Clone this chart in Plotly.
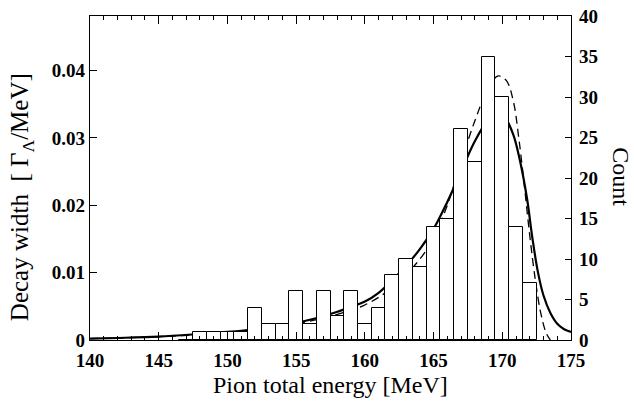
import plotly.graph_objects as go

# Histogram (counts, right axis), bins centred on integer MeV values
bin_centers = [147, 148, 149, 150, 151, 152, 153, 154, 155, 156, 157, 158, 159, 160,
               161, 162, 163, 164, 165, 166, 167, 168, 169, 170, 171, 172]
counts = [0, 1, 1, 1, 1, 4, 2, 2, 6, 2, 6, 3, 6, 2,
          4, 8, 10, 9, 14, 15, 26, 22, 35, 30, 14, 7]

# Solid curve (decay width, left axis)
solid_x = [140, 142, 145, 148, 150, 152, 154, 156, 158, 160, 161, 162, 163, 164, 165,
           166, 167, 168, 169, 169.6, 170.2, 170.8, 171.3, 171.8, 172.2, 172.6, 173,
           173.5, 174, 174.5, 175]
solid_y = [0.0002, 0.0003, 0.0005, 0.0009, 0.0012, 0.0016, 0.0022, 0.0030, 0.0042, 0.0057,
           0.0070, 0.0089, 0.0110, 0.0135, 0.0165, 0.0205, 0.0250, 0.0295, 0.0328, 0.0338,
           0.0330, 0.0305, 0.0265, 0.0210, 0.0150, 0.0100, 0.0066, 0.0040, 0.0024, 0.0016,
           0.0012]

# Dashed curve (decay width, left axis)
dash_x = [140, 142, 145, 148, 150, 152, 155, 158, 160, 162, 164, 165, 166, 167, 168,
          169, 169.7, 170.3, 170.8, 171.2, 171.6, 172, 172.4, 172.8, 173.2, 173.5]
dash_y = [0.0002, 0.0003, 0.0005, 0.0008, 0.0011, 0.0015, 0.0024, 0.0038, 0.0052, 0.0078,
          0.0120, 0.0152, 0.0200, 0.0265, 0.0325, 0.0375, 0.0392, 0.0385, 0.0355, 0.0300,
          0.0230, 0.0155, 0.0090, 0.0040, 0.0010, 0.0]

x_ticks = [140, 145, 150, 155, 160, 165, 170, 175]
left_ticks = [0, 0.01, 0.02, 0.03, 0.04]
left_labels = ["0", "0.01", "0.02", "0.03", "0.04"]
right_ticks = [0, 5, 10, 15, 20, 25, 30, 35, 40]

FONT = "Liberation Serif"

fig = go.Figure()
fig.add_trace(go.Bar(x=bin_centers, y=counts, width=1, yaxis="y2",
                     marker=dict(color="white", line=dict(color="black", width=1)),
                     showlegend=False))
fig.add_trace(go.Scatter(x=dash_x, y=dash_y, mode="lines", line_shape="spline",
                         line=dict(color="black", width=1.3, dash="8px,5px"),
                         showlegend=False))
fig.add_trace(go.Scatter(x=solid_x, y=solid_y, mode="lines", line_shape="spline",
                         line=dict(color="black", width=2.2), showlegend=False))

tickfont = dict(family=FONT, size=19, color="black", weight="bold")
titlefont = dict(family=FONT, size=24, color="black")

fig.update_layout(
    width=634, height=405,
    margin=dict(l=90, r=63, t=16, b=65),
    paper_bgcolor="white", plot_bgcolor="white",
    bargap=0,
    xaxis=dict(range=[140, 175], tickvals=x_ticks, ticktext=[str(v) for v in x_ticks],
               ticks="inside", ticklen=8, tickwidth=1, tickcolor="black",
               showline=True, linecolor="black", linewidth=1.2, mirror="ticks",
               showgrid=False, zeroline=False, tickfont=tickfont, automargin=False,
               ticklabelstandoff=3,
               minor=dict(dtick=1, ticks="inside", ticklen=4, tickcolor="black", showgrid=False)),
    yaxis=dict(range=[0, 0.0481], tickvals=left_ticks, ticktext=left_labels,
               ticks="inside", ticklen=7, tickcolor="black",
               showline=True, linecolor="black", linewidth=1.2, automargin=False,
               showgrid=False, zeroline=False, tickfont=tickfont),
    yaxis2=dict(range=[0, 40], tickvals=right_ticks, ticktext=[str(v) for v in right_ticks],
                overlaying="y", side="right", automargin=False,
                ticks="inside", ticklen=6, tickcolor="black",
                showline=True, linecolor="black", linewidth=1.2,
                showgrid=False, zeroline=False, tickfont=tickfont, ticklabelstandoff=3),
    annotations=[
        dict(text="Pion total energy [MeV]", xref="paper", yref="paper",
             x=0.5, y=-0.139, showarrow=False, yanchor="middle", font=titlefont),
        dict(text="Decay width  [ Γ<sub>Λ</sub>/MeV]", xref="paper", yref="paper",
             x=-0.142, y=0.44, textangle=-90, showarrow=False,
             xanchor="center", yanchor="middle",
             font=dict(family=FONT, size=25, color="black")),
        dict(text="Count", xref="paper", yref="paper",
             x=1.104, y=0.505, textangle=90, showarrow=False,
             xanchor="center", yanchor="middle", font=titlefont),
    ],
)

# remove the browser's default 8px body margin so the figure sits at the page origin
fig.write_html("out.html", post_script="document.body.style.margin='0';",
               config={"displayModeBar": False})
